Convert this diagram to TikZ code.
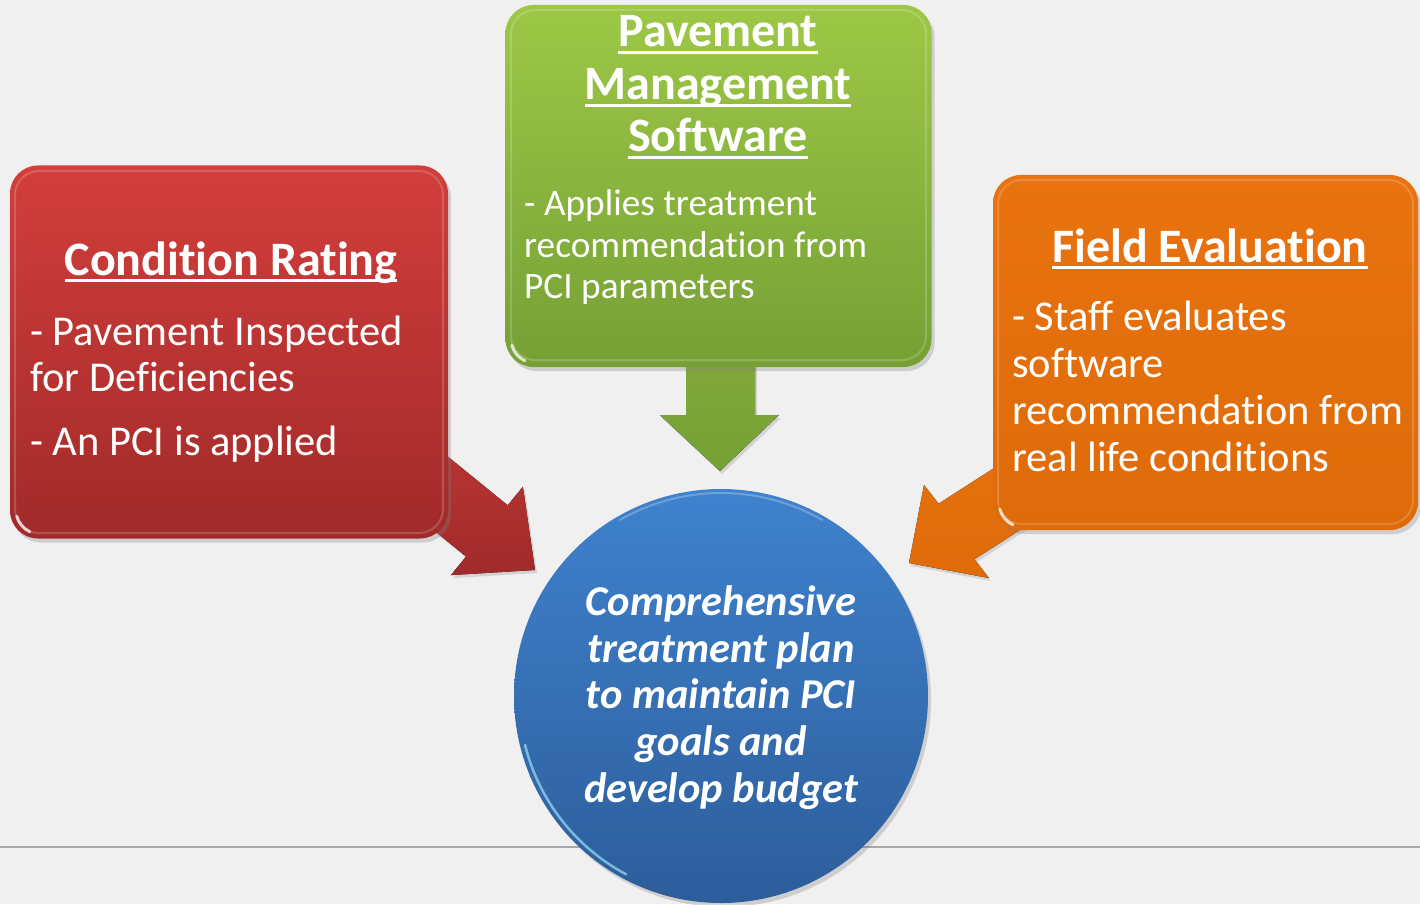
\documentclass[tikz,border=0pt]{standalone}
\usepackage{fontspec}
\setmainfont{Carlito}[Ligatures={NoCommon}]
\usetikzlibrary{shadows}
\definecolor{bggray}{HTML}{F0F0F0}
\definecolor{redtop}{HTML}{D23E3C}
\definecolor{redbot}{HTML}{A12A2A}
\definecolor{greentop}{HTML}{9DC846}
\definecolor{greenbot}{HTML}{76A035}
\definecolor{orangetop}{HTML}{E8730F}
\definecolor{orangebot}{HTML}{DE6A09}
\definecolor{bluetop}{HTML}{3F82CE}
\definecolor{bluebot}{HTML}{2D5D9A}
\definecolor{rulegray}{HTML}{A8A8A8}
\newcommand\myul[1]{\setbox0\hbox{#1}\rlap{\rule[-7pt]{\wd0}{2.6pt}}\box0}
\begin{document}
\begin{tikzpicture}[x=1pt,y=-1pt,
  panel/.style={rounded corners=28pt, draw=none, inner sep=0pt,
    drop shadow={opacity=0.3, shadow xshift=3pt, shadow yshift=-4pt}},
  rim/.style={white, opacity=0.18, line width=2pt, rounded corners=24pt},
  gloss/.style={white, opacity=0.75, line width=3pt, line cap=round},
  ttl/.style={text=white, anchor=base, inner sep=0pt, font=\fontsize{48}{52}\selectfont\bfseries},
  body/.style={text=white, anchor=base west, inner sep=0pt, font=\fontsize{42.5}{47}\selectfont},
  gbody/.style={text=white, anchor=base west, inner sep=0pt, font=\fontsize{37.3}{42}\selectfont},
  ctext/.style={text=white, anchor=base, inner sep=0pt, font=\fontsize{42.5}{47}\selectfont\bfseries\itshape},
  blockarrow/.style={draw=none, drop shadow={opacity=0.25, shadow xshift=2pt, shadow yshift=-3pt}}
]
\useasboundingbox (0,0) rectangle (1420,904);
% background
\fill[bggray] (0,0) rectangle (1420,904);
% horizontal rule
\coordinate (ruleL) at (0,847);
\coordinate (ruleR) at (1420,847);
\draw[rulegray, line width=1.6pt] (ruleL) -- (ruleR);

% block arrows (behind the panels)
\fill[blockarrow, top color=redtop!90!black, bottom color=redbot]
  (391.3,410.6) -- (507.7,505.3) -- (522.9,486.7) -- (535,570) -- (450.9,575.1) -- (466.1,556.5) -- (349.7,461.8) -- cycle;
\fill[blockarrow, top color=greentop!85!black, bottom color=greenbot]
  (686,330) -- (686,415) -- (660,415) -- (720,471) -- (779,415) -- (755,415) -- (755,330) -- cycle;
\fill[blockarrow, top color=orangetop, bottom color=orangebot]
  (1064.9,422.5) -- (938.6,503.7) -- (924,485) -- (909,563) -- (989,578) -- (974.4,559.3) -- (1100.7,478.1) -- cycle;

% panels
\node[panel, minimum width=438pt, minimum height=373pt, top color=redtop, bottom color=redbot] (red) at (229,352) {};
\node[panel, minimum width=426pt, minimum height=362pt, top color=greentop, bottom color=greenbot] (green) at (718.5,186) {};
\node[panel, minimum width=425pt, minimum height=355pt, top color=orangetop, bottom color=orangebot] (orange) at (1205.5,352.5) {};

% glossy rims and corner highlights
\draw[rim] (15,171) rectangle (443,533);
\draw[rim] (511,10) rectangle (926,360);
\draw[rim] (998,180) rectangle (1413,524);
\draw[gloss] (40,510) ++(115:24) arc[start angle=115, end angle=165, radius=24];
\draw[gloss] (535,339) ++(115:24) arc[start angle=115, end angle=165, radius=24];
\draw[gloss] (1023,503) ++(115:24) arc[start angle=115, end angle=165, radius=24];

% circle
\node[circle, minimum size=414pt, inner sep=0pt, draw=none, top color=bluetop, bottom color=bluebot,
  drop shadow={opacity=0.3, shadow xshift=3pt, shadow yshift=-4pt}] (goal) at (721,696) {};
\draw[white!60!cyan, opacity=0.7, line width=2.5pt, line cap=round] (721,696) ++(118:202) arc[start angle=118, end angle=166, radius=202];
\draw[white, opacity=0.25, line width=2pt] (721,696) ++(-60:203) arc[start angle=-60, end angle=-120, radius=203];

% red panel text
\node[ttl] (redttl) at (231,275) {\myul{Condition Rating}};
\node[body] (red1) at (30,345) {- Pavement Inspected};
\node[body] (red2) at (30,391) {for Deficiencies};
\node[body] (red3) at (30,455) {- An PCI is applied};

% green panel text
\node[ttl] (grttl1) at (718,47) {\myul{Pavement}};
\node[ttl] (grttl2) at (718,100) {\myul{Management}};
\node[ttl] (grttl3) at (718,152) {\myul{Software}};
\node[gbody] (gr1) at (524,215) {- Applies treatment};
\node[gbody] (gr2) at (524,257) {recommendation from};
\node[gbody] (gr3) at (524,298) {PCI parameters};

% orange panel text
\node[ttl] (orttl) at (1210,262) {\myul{Field Evaluation}};
\node[body] (or1) at (1012,330) {- Staff evaluates};
\node[body] (or2) at (1012,377) {software};
\node[body] (or3) at (1012,424) {recommendation from};
\node[body] (or4) at (1012,471) {real life conditions};

% circle text
\node[ctext] (c1) at (721,615) {Comprehensive};
\node[ctext] (c2) at (721,662) {treatment plan};
\node[ctext] (c3) at (721,708) {to maintain PCI};
\node[ctext] (c4) at (721,755) {goals and};
\node[ctext] (c5) at (721,802) {develop budget};
\end{tikzpicture}
\end{document}
